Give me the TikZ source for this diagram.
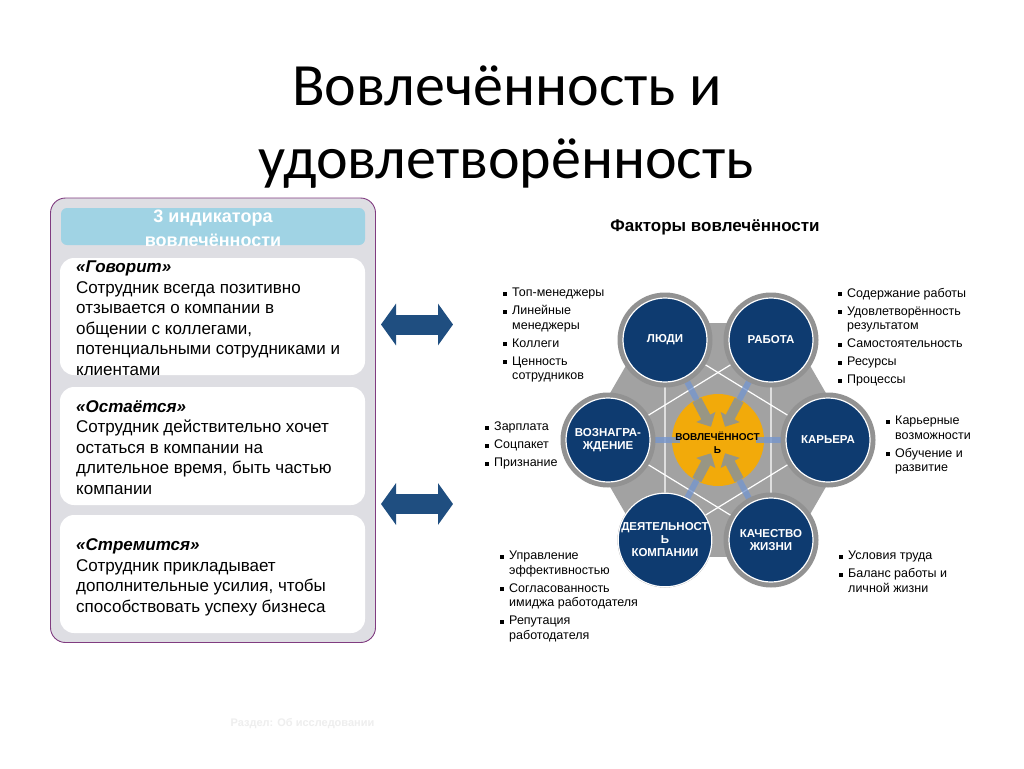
\documentclass[tikz,border=0pt]{standalone}
\usepackage{fontspec}
\setmainfont{Liberation Sans}
\newfontfamily\titlefont{Carlito}
\usepackage{tikz}
\usetikzlibrary{arrows.meta,positioning,calc}
\definecolor{navy}{RGB}{14,59,112}
\definecolor{ringgray}{RGB}{146,146,146}
\definecolor{hexgray}{RGB}{162,162,162}
\definecolor{sun}{RGB}{242,170,10}
\definecolor{headblue}{RGB}{160,211,228}
\definecolor{panelgray}{RGB}{222,222,227}
\definecolor{panelpurple}{RGB}{128,60,128}
\definecolor{arrowblue}{RGB}{31,78,128}
\definecolor{spoke}{RGB}{118,150,205}
\definecolor{arrowgray}{RGB}{152,150,132}
\definecolor{footgray}{RGB}{238,238,238}
\newcommand{\sqbul}{\makebox[9pt][l]{\rule[1.3pt]{3.8pt}{3.8pt}}}
\newcommand{\sqind}{\hspace*{9pt}}

\begin{document}
\begin{tikzpicture}[x=1pt,y=-1pt,
  card/.style={fill=white,rounded corners=14pt},
  cardtext/.style={anchor=north west,inner sep=0pt,align=left,font=\fontsize{17}{20.5}\selectfont},
  ring/.style={circle,fill=ringgray,minimum size=95pt,inner sep=0pt},
  factor/.style={circle,fill=navy,draw=white,line width=1.2pt,minimum size=84pt,inner sep=0pt,
    text=white,align=center,font=\bfseries\fontsize{11.5}{13}\selectfont},
  blist/.style={anchor=north west,inner sep=0pt,align=left,font=\fontsize{12.5}{14.5}\selectfont},
  fatarrow/.style={line width=20pt,draw=arrowblue,
    {Triangle[width=41pt,length=15pt]}-{Triangle[width=41pt,length=15pt]}},
  inarrow/.style={line width=10pt,draw=arrowgray,-{Triangle[width=21pt,length=11pt]}}]
  \fill[white] (0,0) rectangle (1024,768);
  \useasboundingbox (0,0) rectangle (1024,768);

  % Title
  \node[font=\titlefont\fontsize{60}{72}\selectfont,anchor=base] (title1) at (507,105) {Вовлечённость и};
  \node[font=\titlefont\fontsize{60}{72}\selectfont,anchor=base] (title2) at (506,178) {удовлетворённость};

  % Indicators panel
  \draw[panelpurple,fill=panelgray,rounded corners=15pt,line width=0.9pt] (50.5,198) rectangle (375.5,642.5);
  \fill[headblue,rounded corners=6pt] (61,208) rectangle (365,245);
  \begin{scope}
    \clip (61,208) rectangle (365,245);
    \node[text=white,font=\bfseries\fontsize{18}{23.5}\selectfont,align=center] (head) at (213,228.5)
      {3 индикатора\\вовлечённости};
  \end{scope}
  \fill[card] (60,258) rectangle (365,375);
  \fill[card] (60,387) rectangle (365,505);
  \fill[card] (60,515) rectangle (365,633);
  \node[cardtext] (talk) at (76,261) {\textbf{\textit{«Говорит»}}\\Сотрудник всегда позитивно\\
    отзывается о компании в\\общении с коллегами,\\потенциальными сотрудниками и\\клиентами};
  \node[cardtext] (stay) at (76,400) {\textbf{\textit{«Остаётся»}}\\Сотрудник действительно хочет\\
    остаться в компании на\\длительное время, быть частью\\компании};
  \node[cardtext] (strive) at (76,538.5) {\textbf{\textit{«Стремится»}}\\Сотрудник прикладывает\\
    дополнительные усилия, чтобы\\способствовать успеху бизнеса};

  % Double arrows
  \coordinate (a1l) at (381,324.5);
  \coordinate (a1r) at (453,324.5);
  \coordinate (a2l) at (381,504);
  \coordinate (a2r) at (453,504);
  \draw[fatarrow] (a1l) -- (a1r);
  \draw[fatarrow] (a2l) -- (a2r);

  % Factors
  \node[font=\bfseries\fontsize{17}{20}\selectfont] (ftitle) at (715,227) {Факторы вовлечённости};
  \coordinate (ctr) at (718,440);
  \foreach \n/\x/\y in {c1/665/340, c2/771/340, c3/608/440, c4/828/440, c5/665/540, c6/771/540}
    \coordinate (\n) at (\x,\y);
  \fill[hexgray,shift={(718,440)}] (0:135) -- (60:135) -- (120:135) -- (180:135) -- (240:135) -- (300:135) -- cycle;
  \draw[white,line width=1.2pt] (c1) -- (c4) -- (c5) -- cycle;
  \draw[white,line width=1.2pt] (c2) -- (c6) -- (c3) -- cycle;
  \node[circle,fill=sun,minimum size=92pt,inner sep=0pt] (core) at (ctr) {};
  \foreach \n in {c1,c2,c3,c4,c5,c6}
    \draw[spoke,line width=6pt,opacity=0.8] ($(ctr)!38pt!(\n)$) -- (\n);
  \foreach \n in {c1,c2,c5,c6}
    \draw[inarrow] ($(ctr)!45pt!(\n)$) -- ($(ctr)!15pt!(\n)$);
  \node[font=\bfseries\fontsize{10}{13}\selectfont,align=center] (coretext) at (717.5,443) {ВОВЛЕЧЁННОСТ\\Ь};
  \foreach \n/\t in {c1/ЛЮДИ, c2/РАБОТА, c3/{ВОЗНАГРА-\\ЖДЕНИЕ}, c4/КАРЬЕРА,
      c5/{ДЕЯТЕЛЬНОСТ\\Ь\\КОМПАНИИ}, c6/{КАЧЕСТВО\\ЖИЗНИ}} {
    \node[ring] (r\n) at (\n) {};
    \node[factor] (f\n) at (\n) {\t};
  }

  % Bullet lists
  \node[blist] (lpeople) at (503,288) {\sqbul Топ-менеджеры\\[3.5pt]\sqbul Линейные\\\sqind менеджеры\\[3.5pt]
    \sqbul Коллеги\\[3.5pt]\sqbul Ценность\\\sqind сотрудников};
  \node[blist] (lwork) at (838,288) {\sqbul Содержание работы\\[3.5pt]\sqbul Удовлетворённость\\\sqind результатом\\[3.5pt]
    \sqbul Самостоятельность\\[3.5pt]\sqbul Ресурсы\\[3.5pt]\sqbul Процессы};
  \node[blist] (lreward) at (485,422) {\sqbul Зарплата\\[3.5pt]\sqbul Соцпакет\\[3.5pt]\sqbul Признание};
  \node[blist] (lcareer) at (886,416) {\sqbul Карьерные\\\sqind возможности\\[3.5pt]\sqbul Обучение и\\\sqind развитие};
  \node[blist] (lcompany) at (500,551) {\sqbul Управление\\\sqind эффективностью\\[3.5pt]\sqbul Согласованность\\
    \sqind имиджа работодателя\\[3.5pt]\sqbul Репутация\\\sqind работодателя};
  \node[blist] (llife) at (839,551) {\sqbul Условия труда\\[3.5pt]\sqbul Баланс работы и\\\sqind личной жизни};

  % Footer
  \node[text=footgray,font=\bfseries\fontsize{11}{13}\selectfont] (foot) at (302.5,724) {Раздел: Об исследовании};
\end{tikzpicture}
\end{document}
